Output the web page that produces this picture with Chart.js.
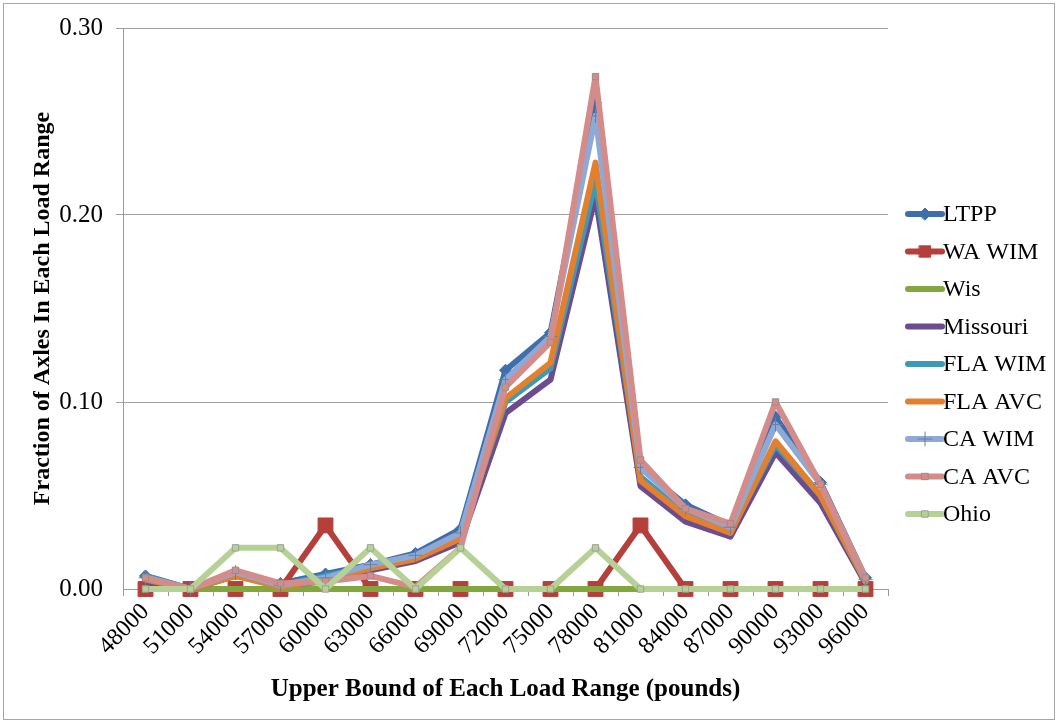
<!DOCTYPE html>
<html>
<head>
<meta charset="utf-8">
<script src="https://cdn.jsdelivr.net/npm/chart.js@4.4.1/dist/chart.umd.min.js"></script>
<style>
  html, body { margin: 0; padding: 0; background: #ffffff; }
  #wrap { width: 1058px; height: 723px; position: relative; }
</style>
</head>
<body>
<div id="wrap"><canvas id="chart" width="1058" height="723"></canvas></div>
<script>
// Upper bound of each load range (pounds)
const loadRanges = ['48000','51000','54000','57000','60000','63000','66000','69000','72000','75000','78000','81000','84000','87000','90000','93000','96000'];

// Fraction of axles in each load range, per data source
const ltpp     = [0.007, 0, 0.008, 0.003, 0.008, 0.013, 0.019, 0.032, 0.117, 0.137, 0.260, 0.065, 0.045, 0.034, 0.092, 0.057, 0.006];
const waWim    = [0, 0, 0, 0, 0.034, 0, 0, 0, 0, 0, 0, 0.034, 0, 0, 0, 0, 0];
const wis      = [0, 0, 0, 0, 0, 0, 0, 0, 0, 0, 0, 0, 0, 0, 0, 0, 0];
const missouri = [0.004, 0, 0.007, 0.002, 0.004, 0.010, 0.015, 0.025, 0.094, 0.112, 0.210, 0.055, 0.036, 0.028, 0.073, 0.046, 0.003];
const flaWim   = [0.007, 0, 0.008, 0.002, 0.007, 0.012, 0.017, 0.028, 0.100, 0.118, 0.218, 0.060, 0.040, 0.031, 0.077, 0.050, 0.004];
const flaAvc   = [0.005, 0, 0.007, 0.001, 0.005, 0.011, 0.016, 0.027, 0.102, 0.121, 0.228, 0.058, 0.039, 0.030, 0.079, 0.050, 0.004];
const caWim    = [0.006, 0, 0.009, 0.002, 0.006, 0.013, 0.018, 0.030, 0.112, 0.135, 0.253, 0.065, 0.043, 0.033, 0.088, 0.056, 0.005];
const caAvc    = [0.006, 0, 0.010, 0.003, 0.004, 0.007, 0.001, 0.022, 0.108, 0.132, 0.274, 0.069, 0.043, 0.035, 0.100, 0.056, 0.006];
const ohio     = [0, 0, 0.022, 0.022, 0, 0.022, 0, 0.022, 0, 0, 0.022, 0, 0, 0, 0, 0, 0];

const yTicks = [0, 0.10, 0.20, 0.30];

const SERIF = '"Liberation Serif", "Times New Roman", serif';
const LINE_W = 6;

function series(label, data, color, pointStyle, radius, pointFill, pointBorder, order) {
  return {
    label, data,
    borderColor: color,
    backgroundColor: color,
    borderWidth: LINE_W,
    borderJoinStyle: 'round',
    borderCapStyle: 'round',
    pointStyle: pointStyle || 'circle',
    pointRadius: pointStyle ? radius : 0,
    pointHoverRadius: pointStyle ? radius : 0,
    pointBackgroundColor: pointFill || color,
    pointBorderColor: pointBorder || color,
    pointBorderWidth: 1,
    tension: 0,
    clip: false,
    order
  };
}

const datasets = [
  series('LTPP',     ltpp,     '#3f6faa', 'rectRot', 6,    '#3f6faa', '#3f6faa', 8),
  series('WA WIM',   waWim,    '#b53f3b', 'rect',    10.5, '#b53f3b', '#b53f3b', 7),
  series('Wis',      wis,      '#82a73f', null,      0,    null,      null,      6),
  series('Missouri', missouri, '#6b4c8f', null,      0,    null,      null,      5),
  series('FLA WIM',  flaWim,   '#3d9ab6', null,      0,    null,      null,      4),
  series('FLA AVC',  flaAvc,   '#e3802f', null,      0,    null,      null,      3),
  series('CA WIM',   caWim,    '#8ea9d6', 'cross',   7,    '#8ea9d6', '#6f7f99', 2),
  series('CA AVC',   caAvc,    '#d48c8b', 'rect',    4.5,  '#d48c8b', '#9a8c8c', 1),
  series('Ohio',     ohio,     '#b6d195', 'rect',    4.5,  '#b6d195', '#9aa09a', 0)
];

// Side legend: line sample with marker, in series order
const sideLegend = {
  id: 'sideLegend',
  beforeDraw(chart) {
    const ctx = chart.ctx;
    ctx.save();
    ctx.fillStyle = '#ffffff';
    ctx.fillRect(0, 0, chart.width, chart.height);
    ctx.strokeStyle = '#a6a6a6';
    ctx.lineWidth = 1;
    ctx.strokeRect(3.5, 3.5, chart.width - 7, chart.height - 7);
    ctx.restore();
  },
  afterDraw(chart) {
    const ctx = chart.ctx;
    const x0 = 908, x1 = 942, yStart = 214, step = 37.5;
    ctx.save();
    datasets.forEach((ds, i) => {
      const y = yStart + i * step;
      ctx.strokeStyle = ds.borderColor;
      ctx.lineWidth = LINE_W;
      ctx.lineCap = 'round';
      ctx.beginPath();
      ctx.moveTo(x0, y);
      ctx.lineTo(x1, y);
      ctx.stroke();
      if (ds.pointRadius > 0) {
        ctx.fillStyle = ds.pointBackgroundColor;
        ctx.strokeStyle = ds.pointBorderColor;
        ctx.lineWidth = 1;
        Chart.helpers.drawPoint(ctx, {
          pointStyle: ds.pointStyle,
          radius: ds.label === 'WA WIM' ? 8 : ds.pointRadius,
          borderWidth: 1,
          rotation: 0
        }, (x0 + x1) / 2, y);
      }
      ctx.fillStyle = '#000';
      ctx.font = '24px ' + SERIF;
      ctx.textAlign = 'left';
      ctx.textBaseline = 'middle';
      ctx.fillText(ds.label, x1 + 1, y + 1);
    });
    ctx.restore();
  }
};

new Chart(document.getElementById('chart'), {
  type: 'line',
  data: { labels: loadRanges, datasets },
  options: {
    responsive: false,
    animation: false,
    events: [],
    layout: { padding: { left: 0, top: 27, right: 170, bottom: 0 } },
    plugins: {
      legend: { display: false },
      tooltip: { enabled: false }
    },
    scales: {
      x: {
        type: 'category',
        offset: true,
        afterFit(s) { s.height = 134; },
        grid: {
          display: true,
          offset: true,
          drawOnChartArea: false,
          drawTicks: true,
          tickLength: 7,
          color: '#9a9a9a',
          lineWidth: 1
        },
        border: { display: true, color: '#9a9a9a', width: 1 },
        ticks: {
          color: '#000',
          font: { family: SERIF, size: 24 },
          maxRotation: 45,
          minRotation: 45,
          padding: 2,
          autoSkip: false
        },
        title: {
          display: true,
          text: 'Upper Bound of Each Load Range (pounds)',
          color: '#000',
          font: { family: SERIF, size: 25, weight: 'bold' },
          padding: { top: 0, bottom: 18 }
        }
      },
      y: {
        min: 0,
        max: 0.30,
        afterFit(s) { s.width = 123; },
        afterBuildTicks(s) { s.ticks = yTicks.map(v => ({ value: v })); },
        grid: {
          display: true,
          drawOnChartArea: true,
          drawTicks: true,
          tickLength: 7,
          color: (c) => c.tick && c.tick.value === 0 ? 'rgba(0,0,0,0)' : '#a0a0a0',
          lineWidth: 1
        },
        border: { display: true, color: '#9a9a9a', width: 1 },
        ticks: {
          color: '#000',
          font: { family: SERIF, size: 25 },
          padding: 13,
          callback: (v) => Number(v).toFixed(2)
        },
        title: {
          display: true,
          text: 'Fraction of Axles In Each Load Range',
          color: '#000',
          font: { family: SERIF, size: 24, weight: 'bold' },
          padding: { top: 28, bottom: 0 }
        }
      }
    }
  },
  plugins: [sideLegend]
});
</script>
</body>
</html>
